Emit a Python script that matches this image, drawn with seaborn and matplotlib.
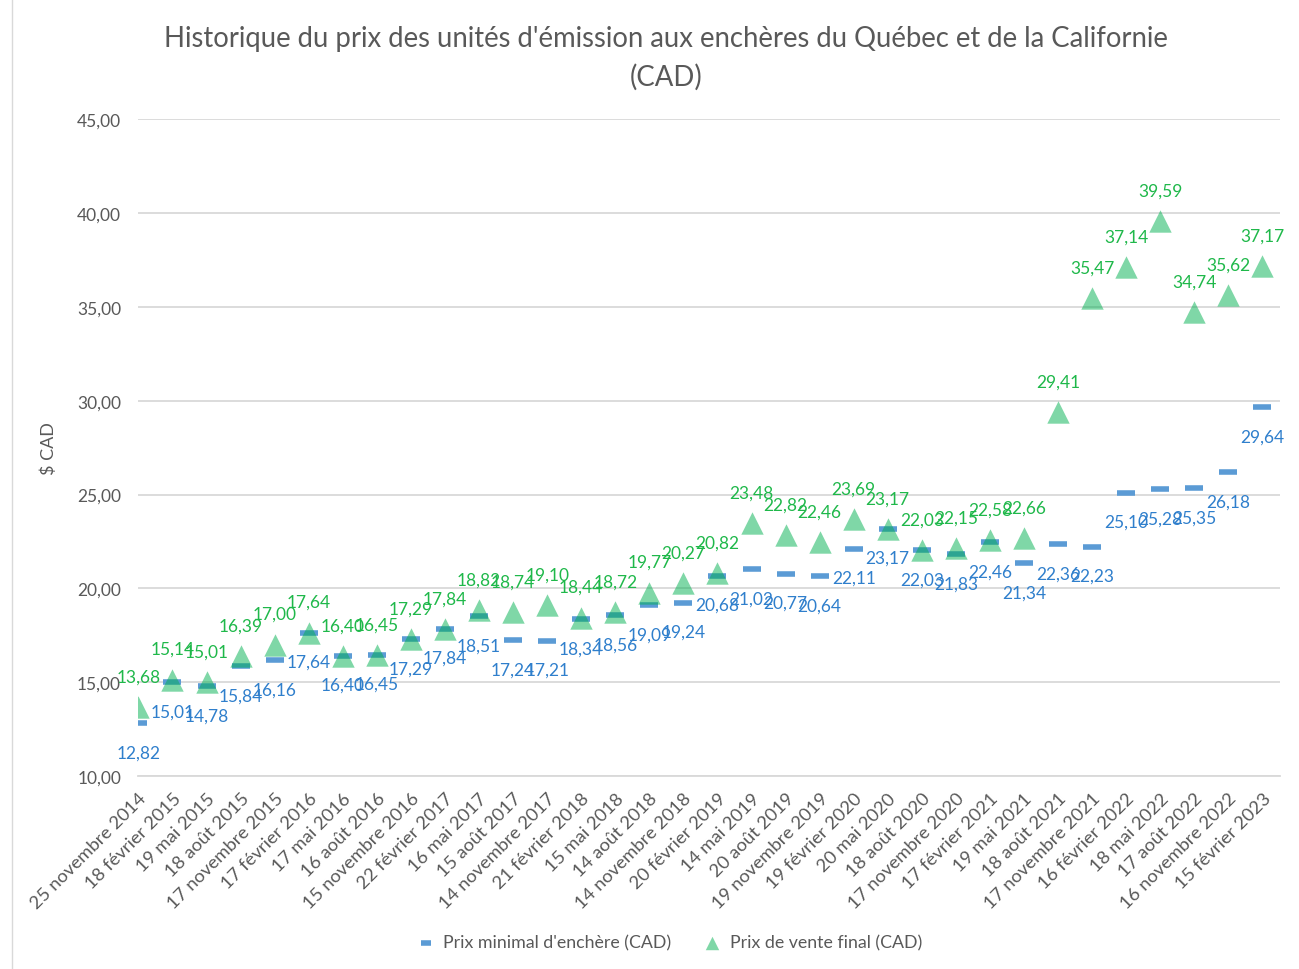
import numpy as np
import pandas as pd
import matplotlib
matplotlib.use("Agg")
import matplotlib.pyplot as plt
import seaborn as sns

# Data
dates = ["25 novembre 2014", "18 février 2015", "19 mai 2015", "18 août 2015",
         "17 novembre 2015", "17 février 2016", "17 mai 2016", "16 août 2016",
         "15 novembre 2016", "22 février 2017", "16 mai 2017", "15 août 2017",
         "14 novembre 2017", "21 février 2018", "15 mai 2018", "14 août 2018",
         "14 novembre 2018", "20 février 2019", "14 mai 2019", "20 août 2019",
         "19 novembre 2019", "19 février 2020", "20 mai 2020", "18 août 2020",
         "17 novembre 2020", "17 février 2021", "19 mai 2021", "18 août 2021",
         "17 novembre 2021", "16 février 2022", "18 mai 2022", "17 août 2022",
         "16 novembre 2022", "15 février 2023"]
prix_min = [12.82, 15.01, 14.78, 15.84, 16.16, 17.64, 16.40, 16.45, 17.29, 17.84,
            18.51, 17.24, 17.21, 18.34, 18.56, 19.09, 19.24, 20.68, 21.02, 20.77,
            20.64, 22.11, 23.17, 22.03, 21.83, 22.46, 21.34, 22.36, 22.23, 25.10,
            25.28, 25.35, 26.18, 29.64]
prix_final = [13.68, 15.14, 15.01, 16.39, 17.00, 17.64, 16.40, 16.45, 17.29, 17.84,
              18.82, 18.74, 19.10, 18.44, 18.72, 19.77, 20.27, 20.82, 23.48, 22.82,
              22.46, 23.69, 23.17, 22.03, 22.15, 22.58, 22.66, 29.41, 35.47, 37.14,
              39.59, 34.74, 35.62, 37.17]

df = pd.DataFrame({"x": np.arange(len(dates)), "date": dates,
                   "min": prix_min, "final": prix_final})

BLUE = "#5b9bd5"
BLUE_TXT = "#2f7fcc"
GREEN = "#00b050"
GREEN_TXT = "#1fb84a"
GREY = "#595959"

sns.set_style("white")
plt.rcParams["font.family"] = ["Lato", "DejaVu Sans"]

fig = plt.figure(figsize=(12.99, 9.70), dpi=100)
ax = fig.add_axes([0.106, 0.199, 0.879, 0.677])

sns.scatterplot(data=df, x="x", y="min", ax=ax, marker="_", s=160,
                color=BLUE, linewidth=4, label="Prix minimal d'enchère (CAD)", zorder=2)
sns.scatterplot(data=df, x="x", y="final", ax=ax, marker="^", s=260,
                color=GREEN, alpha=0.5, linewidth=0, label="Prix de vente final (CAD)", zorder=3)

def fmt(v):
    return f"{v:.2f}".replace(".", ",")

for xi, v in zip(df["x"], df["min"]):
    ax.annotate(fmt(v), (xi, v), xytext=(0, -21), textcoords="offset points",
                ha="center", va="center", color=BLUE_TXT, fontsize=12.5, zorder=4)
for xi, v in zip(df["x"], df["final"]):
    ax.annotate(fmt(v), (xi, v), xytext=(0, 22), textcoords="offset points",
                ha="center", va="center", color=GREEN_TXT, fontsize=12.5, zorder=4)

ax.set_ylim(10, 45)
ax.set_xlim(-0.02, len(dates) - 0.5)
yt = np.arange(10, 46, 5)
ax.set_yticks(yt)
ax.set_yticklabels([fmt(v) for v in yt], color=GREY, fontsize=12.5)
ax.set_xticks(df["x"])
ax.set_xticklabels(dates, rotation=45, ha="right", rotation_mode="anchor",
                   color=GREY, fontsize=13.3)
ax.tick_params(axis="x", length=5, color="#d9d9d9", pad=5)
ax.tick_params(axis="y", length=0, pad=12)
ax.grid(axis="y", color="#d9d9d9", linewidth=1.3)
ax.set_axisbelow(True)
for s in ["top", "right", "left"]:
    ax.spines[s].set_visible(False)
ax.spines["bottom"].set_color("#d9d9d9")
ax.spines["bottom"].set_linewidth(1.3)

ax.set_xlabel("")
ax.set_ylabel("$ CAD", color=GREY, fontsize=13, labelpad=14)

fig.suptitle("Historique du prix des unités d'émission aux enchères du Québec et de la Californie\n(CAD)",
             x=0.513, y=0.973, color=GREY, fontsize=19.8, linespacing=1.55)

leg = ax.legend(loc="center", bbox_to_anchor=(0.462, -0.253), ncol=2, frameon=False,
                fontsize=12.8, handletextpad=0.0, columnspacing=1.3, markerscale=0.6)
for t in leg.get_texts():
    t.set_color(GREY)
for h in leg.legend_handles:
    h.set_alpha(0.5 if h.get_label().startswith("Prix de") else 1)

# thin frame line on the left edge, like the source image
fig.add_artist(plt.Line2D([0.0095, 0.0095], [0, 1], color="#d9d9d9", lw=1,
                          transform=fig.transFigure))

fig.savefig("out.png", dpi=100)
